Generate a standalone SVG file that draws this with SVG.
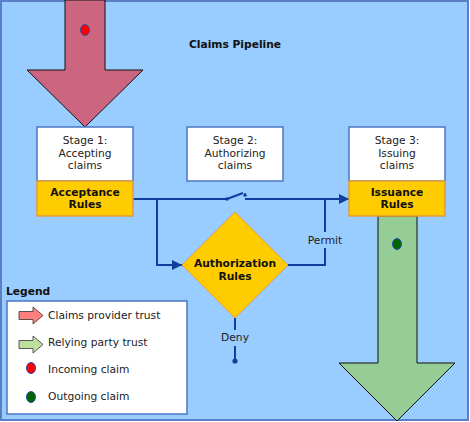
<svg xmlns="http://www.w3.org/2000/svg" width="470" height="422" viewBox="0 0 470 422">
<defs>
<style>
.t{font-family:"DejaVu Sans",Verdana,sans-serif;font-size:10.7px;fill:#222;text-anchor:middle}
.b{font-weight:bold;fill:#111}
.l{text-anchor:start}
.stage{fill:#fff;stroke:#4a76c6;stroke-width:1.5}
.rule{fill:#ffcc00;stroke:#e39a3c;stroke-width:1.5}
.c{fill:none;stroke:#0f3f9e;stroke-width:2}
.dot{stroke:#2a4fae;stroke-width:1}
</style>
<marker id="ah" viewBox="0 0 10 10" refX="10" refY="5" markerWidth="5" markerHeight="5" orient="auto" markerUnits="strokeWidth">
<path d="M0,0 L10,5 L0,10 z" fill="#0f3f9e"/>
</marker>
</defs>
<rect x="1" y="1" width="467" height="419" fill="#99ccff" stroke="#5a7fc8" stroke-width="2"/>
<text class="t b" x="235" y="48">Claims Pipeline</text>

<g id="incoming-arrow">
<path d="M65,0 L105,0 L105,70 L143,70 L85,127 L27,70 L65,70 Z" fill="#cc6680" stroke="#111" stroke-width="1"/>
<ellipse class="dot" cx="85" cy="30" rx="4.5" ry="5.5" fill="#ff0000"/>
</g>
<g id="outgoing-arrow">
<path d="M378,216 L417,216 L417,363 L455,363 L397,421 L339,363 L378,363 Z" fill="#96cd96" stroke="#111" stroke-width="1"/>
<ellipse class="dot" cx="397" cy="244" rx="4.5" ry="5.5" fill="#006600"/>
</g>

<g id="connectors">
<path class="c" d="M133,199 L227,199"/>
<path class="c" d="M227,199 L243,193" stroke-width="1.5"/>
<circle cx="227" cy="199" r="1.8" fill="#0f3f9e"/>
<path d="M243.5,196 L246.5,196 L245,193 Z" fill="#0f3f9e" stroke="#0f3f9e" stroke-width="1"/>
<path class="c" d="M245,199 L349,199" marker-end="url(#ah)"/>
<path class="c" d="M157,199 L157,265 L182,265" marker-end="url(#ah)"/>
<path class="c" d="M288,265 L325,265 L325,248"/>
<path class="c" d="M325,232 L325,199"/>
<path class="c" d="M235,318 L235,330"/>
<path class="c" d="M235,346 L235,361"/>
<circle cx="235" cy="361" r="2.6" fill="#0f3f9e"/>
<text class="t" x="325" y="244">Permit</text>
<text class="t" x="235" y="341">Deny</text>
</g>

<g id="stage1">
<rect class="stage" x="37" y="127" width="96" height="54"/>
<text class="t" x="85" y="144">Stage 1:</text>
<text class="t" x="85" y="157">Accepting</text>
<text class="t" x="85" y="169">claims</text>
</g>
<g id="acceptance-rules">
<rect class="rule" x="37" y="181" width="96" height="35"/>
<text class="t b" x="85" y="196">Acceptance</text>
<text class="t b" x="85" y="208">Rules</text>
</g>
<g id="stage2">
<rect class="stage" x="187" y="127" width="96" height="54"/>
<text class="t" x="235" y="144">Stage 2:</text>
<text class="t" x="235" y="157">Authorizing</text>
<text class="t" x="235" y="169">claims</text>
</g>
<g id="stage3">
<rect class="stage" x="349" y="127" width="96" height="54"/>
<text class="t" x="397" y="144">Stage 3:</text>
<text class="t" x="397" y="157">Issuing</text>
<text class="t" x="397" y="169">claims</text>
</g>
<g id="issuance-rules">
<rect class="rule" x="349" y="181" width="96" height="35"/>
<text class="t b" x="397" y="196">Issuance</text>
<text class="t b" x="397" y="208">Rules</text>
</g>
<g id="authorization-rules">
<path d="M235,212 L288,265 L235,318 L182,265 Z" fill="#ffcc00" stroke="#e39a3c" stroke-width="1"/>
<text class="t b" x="235" y="267">Authorization</text>
<text class="t b" x="235" y="280">Rules</text>
</g>

<g id="legend">
<text class="t b l" x="6" y="295">Legend</text>
<rect x="7" y="301" width="180" height="113" fill="#fff" stroke="#4a76c6" stroke-width="1.5"/>
<path d="M19,311.5 L33,311.5 L33,307 L43,315.5 L33,324 L33,319.5 L19,319.5 Z" fill="#ff7f7f" stroke="#333" stroke-width="0.8"/>
<text class="t l" x="48" y="319">Claims provider trust</text>
<path d="M19,340.5 L33,340.5 L33,336 L43,344.5 L33,353 L33,348.5 L19,348.5 Z" fill="#bde19c" stroke="#333" stroke-width="0.8"/>
<text class="t l" x="48" y="346">Relying party trust</text>
<ellipse class="dot" cx="31" cy="368" rx="4.5" ry="5.5" fill="#ff0000"/>
<text class="t l" x="48" y="373">Incoming claim</text>
<ellipse class="dot" cx="31" cy="397" rx="4.5" ry="5.5" fill="#006600"/>
<text class="t l" x="48" y="400">Outgoing claim</text>
</g>
</svg>
